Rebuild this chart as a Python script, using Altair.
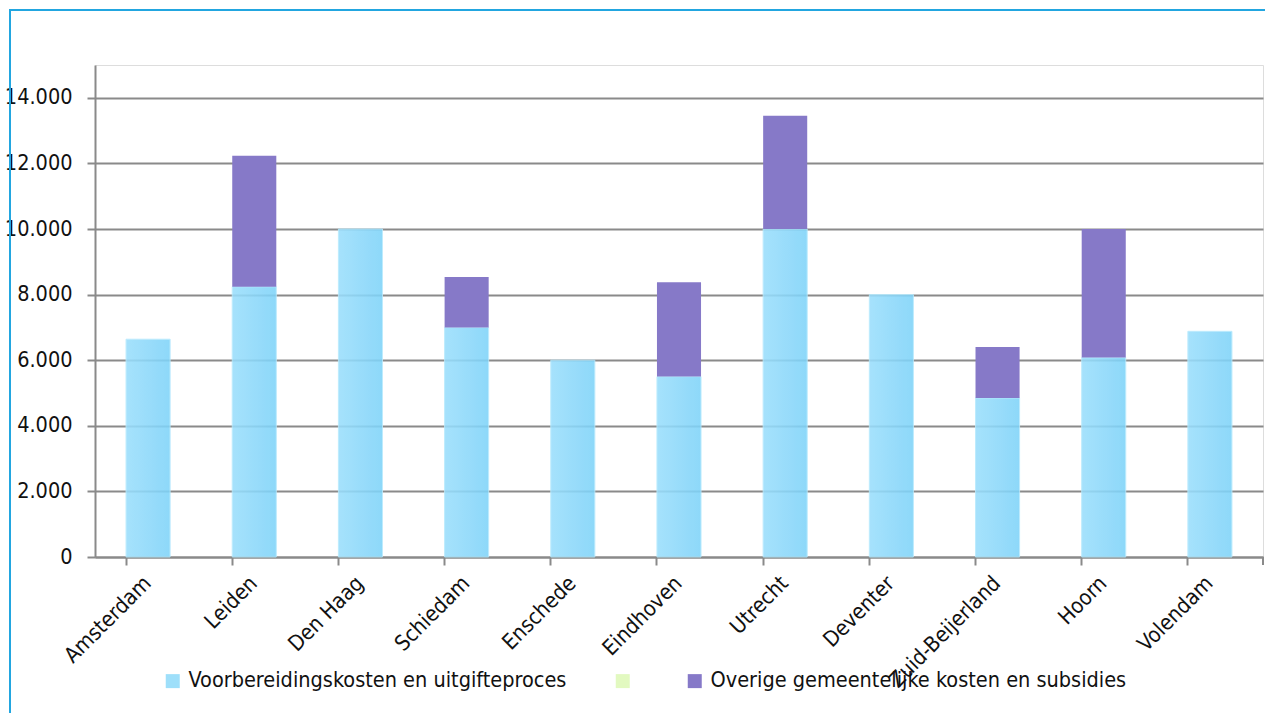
import altair as alt
import pandas as pd

# Kosten per woning (euro), per gemeente
steden = ["Amsterdam", "Leiden", "Den Haag", "Schiedam", "Enschede", "Eindhoven",
          "Utrecht", "Deventer", "Zuid-Beijerland", "Hoorn", "Volendam"]
voorbereiding = [6640, 8240, 10000, 7000, 6000, 5500, 10000, 8000, 4850, 6080, 6880]
overig = [0, 3990, 0, 1540, 0, 2880, 3450, 0, 1550, 3920, 0]

# the middle legend entry has no text of its own
serie_namen = ["Voorbereidingskosten en uitgifteproces", " ",
               "Overige gemeentelijke kosten en subsidies"]
serie_kleuren = ["#9edffa", "#e2f9c0", "#8679c8"]
y_ticks = [0, 2000, 4000, 6000, 8000, 10000, 12000, 14000]

df = pd.DataFrame({"stad": steden, "voorb": voorbereiding, "overig": overig})
df["totaal"] = df["voorb"] + df["overig"]

FONT = "DejaVu Sans Condensed, sans-serif"
FS = 21.5
GRIJS = "#8a8a8a"
TEKST = "#111111"
W, H = 1168, 492

x_enc = alt.X(
    "stad:N", sort=steden, title=None,
    scale=alt.Scale(paddingInner=0.585, paddingOuter=0.2925),
    axis=alt.Axis(labelAngle=-45, labelAlign="right", labelBaseline="middle",
                  labelPadding=15, bandPosition=0, tickSize=8, tickWidth=2,
                  tickColor=GRIJS, domainColor=GRIJS, domainWidth=2,
                  labelFontSize=FS, labelColor=TEKST, labelFont=FONT),
)

base = alt.Chart(df)

# light blue bars with a left-to-right gradient, slightly see-through
blauw = base.mark_bar(
    color=alt.Gradient(
        gradient="linear", x1=0, x2=1, y1=0, y2=0,
        stops=[alt.GradientStop(color="#9adefc", offset=0),
               alt.GradientStop(color="#7ed3f9", offset=1)],
    ),
    opacity=0.88,
    stroke="#b4e9fd", strokeWidth=1,
).encode(
    x=x_enc,
    y=alt.Y("voorb:Q", title=None,
            scale=alt.Scale(domain=[0, 15000], nice=False),
            axis=alt.Axis(values=y_ticks, grid=True, gridColor=GRIJS, gridWidth=2,
                          tickSize=8, tickWidth=2, tickColor=GRIJS,
                          domainColor=GRIJS, domainWidth=2, labelPadding=15,
                          labelFontSize=FS, labelColor=TEKST, labelFont=FONT,
                          labelExpr="replace(format(datum.value, ','), ',', '.')")),
)

paars = base.transform_filter("datum.overig > 0").transform_calculate(
    serie="'Overige gemeentelijke kosten en subsidies'"
).mark_bar().encode(
    x=alt.X("stad:N", sort=steden),
    y=alt.Y("voorb:Q"),
    y2="totaal:Q",
    color=alt.Color(
        "serie:N",
        scale=alt.Scale(domain=serie_namen, range=serie_kleuren),
        legend=alt.Legend(
            title=None, orient="none", direction="horizontal",
            legendX=67, legendY=605, symbolType="square", symbolSize=196,
            symbolStrokeWidth=0, labelOffset=5, columnPadding=45,
            labelFontSize=FS, labelFont=FONT, labelColor=TEKST,
            labelLimit=600,
        ),
    ),
)

een = alt.Chart(pd.DataFrame({"k": [0]}))

# last tick at the right end of the category axis
eind_tick = een.mark_rule(color=GRIJS, strokeWidth=2).encode(
    x=alt.value(W), y=alt.value(H), y2=alt.value(H + 8))

# blue frame line along the left and top edge
kader_links = een.mark_rule(color="#22a6e0", strokeWidth=2).encode(
    x=alt.value(-85), y=alt.value(-55), y2=alt.value(650))
kader_boven = een.mark_rule(color="#22a6e0", strokeWidth=2).encode(
    x=alt.value(-86), x2=alt.value(1175), y=alt.value(-55))

chart = alt.layer(blauw, paars, eind_tick, kader_links, kader_boven).properties(
    width=W, height=H,
    autosize=alt.AutoSizeParams(type="none"),
    padding={"left": 95, "top": 65, "right": 2, "bottom": 156},
).configure_view(stroke=None).configure(background="white")

chart.save("out.html", embed_options={"renderer": "svg", "actions": False})
